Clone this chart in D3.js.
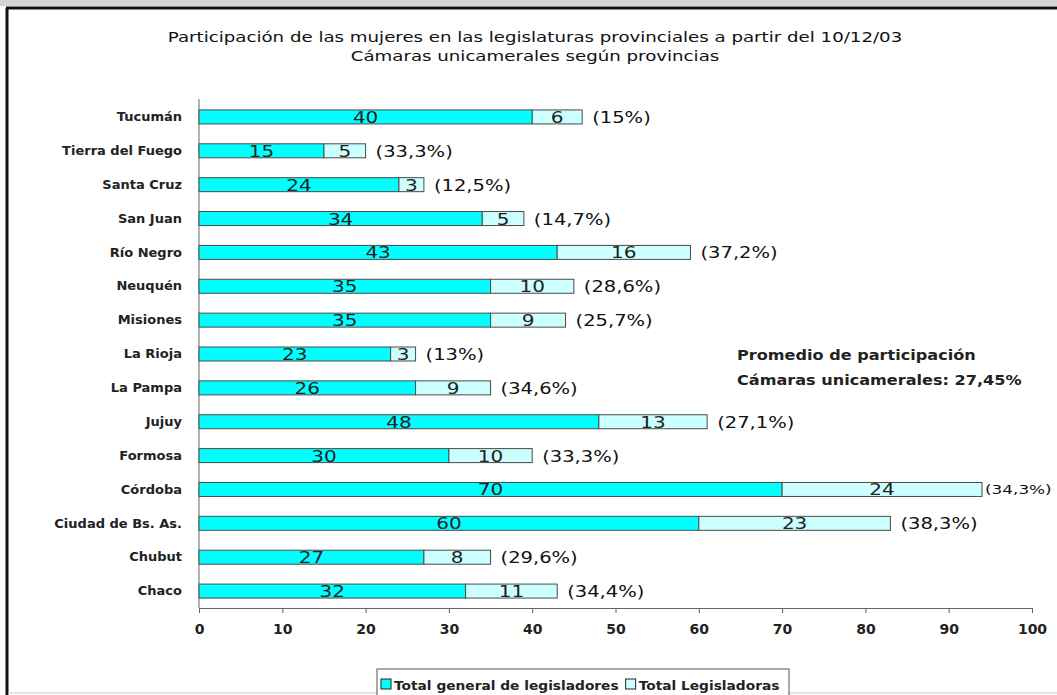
<!DOCTYPE html>
<html>
<head>
<meta charset="utf-8">
<script src="https://cdn.jsdelivr.net/npm/d3@7"></script>
<style>
  body { margin: 0; background: #fff; }
  text { font-family: "DejaVu Sans", Verdana, sans-serif; }
</style>
</head>
<body>
<svg id="chart" width="1057" height="695"></svg>
<script>
const provincias = ["Tucumán", "Tierra del Fuego", "Santa Cruz", "San Juan", "Río Negro",
    "Neuquén", "Misiones", "La Rioja", "La Pampa", "Jujuy", "Formosa", "Córdoba",
    "Ciudad de Bs. As.", "Chubut", "Chaco"];
const totalLegisladores = [40, 15, 24, 34, 43, 35, 35, 23, 26, 48, 30, 70, 60, 27, 32];
const totalLegisladoras = [6, 5, 3, 5, 16, 10, 9, 3, 9, 13, 10, 24, 23, 8, 11];
const porcentajes = ["(15%)", "(33,3%)", "(12,5%)", "(14,7%)", "(37,2%)", "(28,6%)", "(25,7%)",
    "(13%)", "(34,6%)", "(27,1%)", "(33,3%)", "(34,3%)", "(38,3%)", "(29,6%)", "(34,4%)"];
const xTicks = [0, 10, 20, 30, 40, 50, 60, 70, 80, 90, 100];
const series = ["Total general de legisladores", "Total Legisladoras"];
const colores = ["#00ffff", "#ccffff"];

const svg = d3.select("#chart");

// texto ensanchado (la imagen original esta estirada en horizontal)
const ancho = (px, py, s) => `translate(${px},${py}) scale(${s},1)`;

// marco
svg.append("rect").attr("x", 0).attr("y", 0).attr("width", 1057).attr("height", 6).attr("fill", "#d4d4d4");
svg.append("line").attr("x1", 6).attr("x2", 1057).attr("y1", 8).attr("y2", 8).attr("stroke", "#111").attr("stroke-width", 3);
svg.append("line").attr("x1", 7).attr("x2", 7).attr("y1", 8).attr("y2", 695).attr("stroke", "#111").attr("stroke-width", 3);
svg.append("line").attr("x1", 8).attr("x2", 1057).attr("y1", 693).attr("y2", 693).attr("stroke", "#ccc").attr("stroke-width", 1);

// titulo
svg.append("text").attr("transform", ancho(535, 42, 1.3)).attr("text-anchor", "middle")
    .attr("font-size", 14).attr("fill", "#111")
    .text("Participación de las mujeres en las legislaturas provinciales a partir del 10/12/03");
svg.append("text").attr("transform", ancho(535, 61, 1.3)).attr("text-anchor", "middle")
    .attr("font-size", 14).attr("fill", "#111")
    .text("Cámaras unicamerales según provincias");

const x = d3.scaleLinear().domain([0, 100]).range([199, 1032]);
const y = d3.scaleBand().domain(provincias).range([100, 608])
    .paddingInner(0.587).paddingOuter(0.2935);

const data = provincias.map((p, i) => ({
    p, total: totalLegisladores[i], mujeres: totalLegisladoras[i], pct: porcentajes[i]
}));

// ejes
const xAxis = svg.append("g").attr("transform", "translate(0,608)")
    .call(d3.axisBottom(x).tickValues(xTicks).tickSize(5).tickPadding(11));
xAxis.select(".domain").attr("stroke", "#666");
xAxis.selectAll(".tick line").attr("stroke", "#666");
xAxis.selectAll(".tick text").attr("font-size", 14).attr("font-weight", "bold").attr("fill", "#222")
    .style("font-family", "DejaVu Sans, Verdana, sans-serif");

const yAxis = svg.append("g").attr("transform", "translate(199,0)")
    .call(d3.axisLeft(y).tickSize(0).tickPadding(17));
yAxis.select(".domain").attr("stroke", "#666").attr("d", "M0,99V608");
yAxis.selectAll(".tick text").attr("font-size", 13).attr("font-weight", "bold").attr("fill", "#222")
    .style("font-family", "DejaVu Sans, Verdana, sans-serif");

// barras
const fila = svg.append("g").selectAll("g").data(data).enter().append("g");

fila.append("rect")
    .attr("x", x(0))
    .attr("y", (d) => y(d.p))
    .attr("width", (d) => x(d.total) - x(0))
    .attr("height", y.bandwidth())
    .attr("fill", colores[0]).attr("stroke", "#4a4a4a").attr("stroke-width", 1);

fila.append("rect")
    .attr("x", (d) => x(d.total))
    .attr("y", (d) => y(d.p))
    .attr("width", (d) => x(d.total + d.mujeres) - x(d.total))
    .attr("height", y.bandwidth())
    .attr("fill", colores[1]).attr("stroke", "#4a4a4a").attr("stroke-width", 1);

const yTexto = (d) => y(d.p) + y.bandwidth() / 2 + 6;

fila.append("text")
    .attr("transform", (d) => ancho((x(0) + x(d.total)) / 2, yTexto(d), 1.25))
    .attr("text-anchor", "middle").attr("font-size", 16).attr("fill", "#222")
    .text((d) => d.total);

fila.append("text")
    .attr("transform", (d) => ancho((x(d.total) + x(d.total + d.mujeres)) / 2, yTexto(d), 1.25))
    .attr("text-anchor", "middle").attr("font-size", 16).attr("fill", "#222")
    .text((d) => d.mujeres);

fila.append("text")
    .attr("transform", (d) => {
        const fin = x(d.total + d.mujeres);
        return fin > 960 ? ancho(fin + 3, yTexto(d) - 1, 1.35) : ancho(fin + 10, yTexto(d), 1.22);
    })
    .attr("font-size", (d) => x(d.total + d.mujeres) > 960 ? 12.5 : 16)
    .attr("fill", "#111")
    .text((d) => d.pct);

// nota promedio
svg.append("text").attr("transform", ancho(737, 360, 1.15)).attr("font-size", 14)
    .attr("font-weight", "bold").attr("fill", "#222")
    .text("Promedio de participación");
svg.append("text").attr("transform", ancho(737, 385, 1.15)).attr("font-size", 14)
    .attr("font-weight", "bold").attr("fill", "#222")
    .text("Cámaras unicamerales: 27,45%");

// leyenda
const ley = svg.append("g");
ley.append("rect").attr("x", 377).attr("y", 669).attr("width", 412).attr("height", 32)
    .attr("fill", "#fff").attr("stroke", "#555");
let lx = 381;
series.forEach((s, i) => {
    ley.append("rect").attr("x", lx).attr("y", 679).attr("width", 10).attr("height", 10)
        .attr("fill", colores[i]).attr("stroke", "#222");
    const t = ley.append("text").attr("transform", ancho(lx + 13, 690, 1.06)).attr("font-size", 13)
        .attr("font-weight", "bold").attr("fill", "#222").text(s);
    lx += 13 + t.node().getComputedTextLength() * 1.06 + 7;
});
</script>
</body>
</html>
